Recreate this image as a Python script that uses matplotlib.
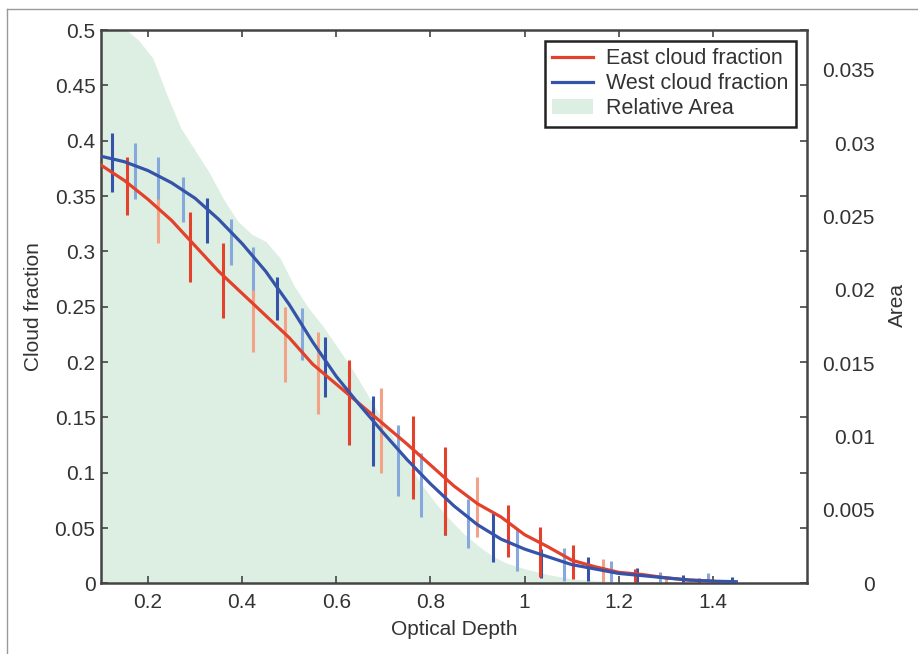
import numpy as np
import matplotlib
matplotlib.use("Agg")
from matplotlib import pyplot as plt
from matplotlib.lines import Line2D
from matplotlib.patches import Patch

# curves
depth = [0.10, 0.15, 0.20, 0.25, 0.30, 0.35, 0.40, 0.45, 0.50, 0.55,
         0.60, 0.65, 0.70, 0.75, 0.80, 0.85, 0.90, 0.95, 1.00, 1.05,
         1.10, 1.15, 1.20, 1.25, 1.30, 1.35, 1.40, 1.45]
west = [0.386, 0.381, 0.373, 0.362, 0.348, 0.329, 0.307, 0.282, 0.252, 0.218,
        0.187, 0.161, 0.136, 0.112, 0.090, 0.070, 0.053, 0.040, 0.031, 0.024,
        0.017, 0.013, 0.009, 0.007, 0.005, 0.003, 0.002, 0.0015]
east = [0.378, 0.364, 0.347, 0.328, 0.305, 0.282, 0.262, 0.242, 0.222, 0.198,
        0.180, 0.162, 0.144, 0.126, 0.107, 0.088, 0.072, 0.060, 0.044, 0.033,
        0.021, 0.015, 0.010, 0.008, 0.005, 0.003, 0.002]

# error bars: position, low, high
west_bar_x = [0.123, 0.172, 0.221, 0.274, 0.325, 0.376, 0.423, 0.474, 0.527,
              0.576, 0.627, 0.678, 0.731, 0.780, 0.831, 0.880, 0.933, 0.984,
              1.035, 1.084, 1.135, 1.183, 1.239, 1.288, 1.337, 1.390, 1.440]
west_bar_lo = [0.354, 0.347, 0.317, 0.327, 0.308, 0.288, 0.259, 0.238, 0.202,
               0.168, 0.133, 0.106, 0.079, 0.060, 0.044, 0.032, 0.019, 0.011,
               0.005, 0.002, 0.002, 0.001, 0.001, 0.001, 0.001, 0.001, 0.001]
west_bar_hi = [0.407, 0.398, 0.385, 0.367, 0.348, 0.329, 0.304, 0.277, 0.249,
               0.223, 0.200, 0.169, 0.143, 0.118, 0.097, 0.076, 0.064, 0.049,
               0.031, 0.032, 0.024, 0.020, 0.014, 0.010, 0.008, 0.009, 0.006]
west_bar_dark = [1, 0, 0, 0, 1, 0, 0, 1, 0, 1, 0, 1, 0, 0, 1, 0, 1, 0,
                 1, 0, 1, 0, 1, 0, 1, 0, 1]

east_bar_x = [0.155, 0.221, 0.289, 0.359, 0.423, 0.491, 0.561, 0.627, 0.695,
              0.763, 0.831, 0.899, 0.965, 1.033, 1.103, 1.167, 1.235, 1.300, 1.370]
east_bar_lo = [0.333, 0.308, 0.272, 0.240, 0.209, 0.182, 0.153, 0.125, 0.100,
               0.076, 0.044, 0.042, 0.024, 0.006, 0.004, 0.001, 0.001, 0.0, 0.0]
east_bar_hi = [0.385, 0.347, 0.336, 0.308, 0.265, 0.250, 0.227, 0.202, 0.177,
               0.151, 0.123, 0.096, 0.071, 0.051, 0.035, 0.022, 0.013, 0.006, 0.005]
east_bar_dark = [1, 0, 1, 1, 0, 0, 0, 1, 0, 1, 1, 0, 1, 1, 1, 0, 1, 0, 1]

# relative area (right axis)
area_x = [0.10, 0.13, 0.155, 0.18, 0.21, 0.24, 0.27, 0.30, 0.33, 0.36, 0.39, 0.42,
          0.45, 0.48, 0.51, 0.54, 0.57, 0.60, 0.63, 0.66, 0.69, 0.72, 0.75,
          0.78, 0.81, 0.84, 0.87, 0.90, 0.93, 0.96, 1.00, 1.05, 1.10, 1.15,
          1.20, 1.25]
area = [0.0400, 0.0390, 0.0377, 0.0370, 0.0358, 0.0333, 0.0310, 0.0295, 0.0280,
        0.0262, 0.0247, 0.0238, 0.0233, 0.0222, 0.0203, 0.0188, 0.0176,
        0.0162, 0.0148, 0.0132, 0.0116, 0.0100, 0.0083, 0.0068, 0.0055,
        0.0044, 0.0034, 0.0026, 0.0019, 0.0014, 0.0010, 0.0006, 0.0003,
        0.0002, 0.0001, 0.0]

x_ticks = [0.2, 0.4, 0.6, 0.8, 1.0, 1.2, 1.4]
x_labels = ["0.2", "0.4", "0.6", "0.8", "1", "1.2", "1.4"]
y_ticks = [0, 0.05, 0.1, 0.15, 0.2, 0.25, 0.3, 0.35, 0.4, 0.45, 0.5]
y_labels = ["0", "0.05", "0.1", "0.15", "0.2", "0.25", "0.3", "0.35", "0.4", "0.45", "0.5"]
a_ticks = [0, 0.005, 0.01, 0.015, 0.02, 0.025, 0.03, 0.035]
a_labels = ["0", "0.005", "0.01", "0.015", "0.02", "0.025", "0.03", "0.035"]

RED = "#e4412c"
RED_LIGHT = "#f2a286"
BLUE = "#3553a8"
BLUE_LIGHT = "#86a8dc"
GREEN = "#dcefe2"
TXT = "#333333"
SPINE = "#444444"

plt.rcParams["font.family"] = ["Liberation Sans", "DejaVu Sans"]
plt.rcParams["font.size"] = 15


def main():
    fig = plt.figure(figsize=(9.18, 6.54), dpi=100)
    fig.patch.set_facecolor("white")
    ax = fig.add_axes([0.110, 0.108, 0.769, 0.846])
    ax2 = ax.twinx()

    # area on the back axis, curves on the front one
    ax2.fill_between(area_x, area, 0, color=GREEN, lw=0)
    ax2.set_ylim(0, 0.0377)
    ax2.set_yticks(a_ticks)
    ax2.set_yticklabels(a_labels, color=TXT)
    ax2.tick_params(axis="y", length=0, pad=49)
    for lbl in ax2.get_yticklabels():
        lbl.set_ha("right")
    for s in ax2.spines.values():
        s.set_visible(False)
    ax2.set_facecolor("#fdfefe")

    ax.set_zorder(ax2.get_zorder() + 1)
    ax.patch.set_visible(False)

    wc = [BLUE if d else BLUE_LIGHT for d in west_bar_dark]
    ec = [RED if d else RED_LIGHT for d in east_bar_dark]
    ax.vlines(west_bar_x, west_bar_lo, west_bar_hi, colors=wc, lw=2.2, zorder=2)
    ax.vlines(east_bar_x, east_bar_lo, east_bar_hi, colors=ec, lw=2.2, zorder=2)
    ax.plot(depth[:len(east)], east, color=RED, lw=2.3, zorder=3)
    ax.plot(depth, west, color=BLUE, lw=2.3, zorder=3)

    ax.set_xlim(0.1, 1.6)
    ax.set_ylim(0, 0.5)
    ax.set_xticks(x_ticks)
    ax.set_xticklabels(x_labels, color=TXT)
    ax.set_yticks(y_ticks)
    ax.set_yticklabels(y_labels, color=TXT)
    ax.tick_params(axis="both", direction="in", length=5, width=1.2, color=SPINE,
                   top=True, right=True)
    ax.tick_params(axis="x", pad=7)
    ax.tick_params(axis="y", pad=4)
    for s in ax.spines.values():
        s.set_color(SPINE)
        s.set_linewidth(1.8)

    ax.set_xlabel("Optical Depth", color=TXT, labelpad=6)
    ax.set_ylabel("Cloud fraction", color=TXT, labelpad=8)
    fig.text(897 / 918, 1 - 305 / 654, "Area", rotation=90, ha="center",
             va="center", color=TXT, fontsize=15)

    handles = [Line2D([], [], color=RED, lw=2.3),
               Line2D([], [], color=BLUE, lw=2.3),
               Patch(facecolor=GREEN, edgecolor="none")]
    leg = ax.legend(handles, ["East cloud fraction", "West cloud fraction", "Relative Area"],
                    loc="upper right", fancybox=False, framealpha=1,
                    borderaxespad=0.5, borderpad=0.35, labelspacing=0.18,
                    handlelength=1.9, handletextpad=0.6, fontsize=15.5)
    leg.get_frame().set_edgecolor("#222222")
    leg.get_frame().set_linewidth(1.8)
    for t in leg.get_texts():
        t.set_color(TXT)

    # thin frame round the picture (left and top only)
    fig.add_artist(Line2D([7 / 918, 7 / 918], [0, 1 - 9 / 654], transform=fig.transFigure,
                          color="#999999", lw=1))
    fig.add_artist(Line2D([7 / 918, 1], [1 - 9 / 654, 1 - 9 / 654], transform=fig.transFigure,
                          color="#999999", lw=1))

    fig.savefig("out.png", dpi=100)


if __name__ == "__main__":
    main()
